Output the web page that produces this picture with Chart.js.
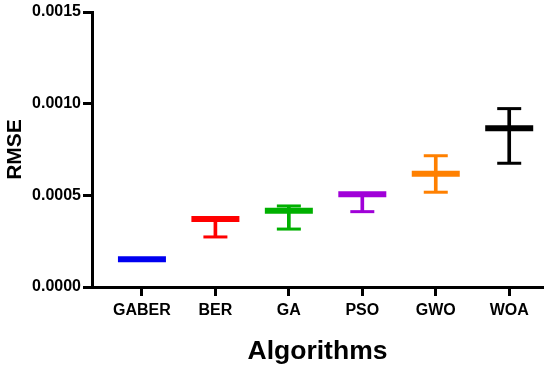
<!DOCTYPE html>
<html>
<head>
<meta charset="utf-8">
<script src="https://cdn.jsdelivr.net/npm/chart.js@4"></script>
<style>
  html, body { margin: 0; padding: 0; background: #fff; }
  #wrap { width: 550px; height: 370px; }
</style>
</head>
<body>
<div id="wrap"><canvas id="chart"></canvas></div>
<script>
const categories = ["GABER", "BER", "GA", "PSO", "GWO", "WOA"]
const meanRmse = [0.000151, 0.000371, 0.000416, 0.000506, 0.000618, 0.000866]
const lowRmse = [0.000149, 0.000273, 0.000316, 0.000411, 0.000517, 0.000675]
const highRmse = [0.000153, 0.000373, 0.000442, 0.000508, 0.000716, 0.000973]
const yTicks = [0.0000, 0.0005, 0.0010, 0.0015]
const colors = ["#0000f0", "#ff0000", "#00b000", "#a000d8", "#ff8000", "#000000"]

const font = "'Liberation Sans', Arial, sans-serif"

var meanPoints = []
var capPoints = []
var capColors = []
var whiskers = []
for (let i = 0; i < categories.length; i++) {
  meanPoints.push({ x: i, y: meanRmse[i] })
  whiskers.push({ x: i, y: [lowRmse[i], highRmse[i]] })
  capPoints.push({ x: i, y: lowRmse[i] })
  capPoints.push({ x: i, y: highRmse[i] })
  capColors.push(colors[i], colors[i])
}

const ctx = document.getElementById("chart")

new Chart(ctx, {
  type: "scatter",
  data: {
    datasets: [
      {
        // mean line
        data: meanPoints,
        pointStyle: "line",
        pointRadius: 24,
        pointHoverRadius: 24,
        borderWidth: 6,
        pointBorderWidth: 6,
        borderColor: colors,
        backgroundColor: colors
      },
      {
        // caps
        data: capPoints,
        pointStyle: "line",
        pointRadius: 12,
        pointHoverRadius: 12,
        borderWidth: 3,
        pointBorderWidth: 3,
        borderColor: capColors,
        backgroundColor: capColors
      },
      {
        type: "bar",
        data: whiskers,
        backgroundColor: colors,
        barThickness: 3
      }
    ]
  },
  options: {
    animation: false,
    responsive: true,
    maintainAspectRatio: false,
    plugins: {
      legend: { display: false },
      tooltip: { enabled: false }
    },
    layout: {
      autoPadding: false,
      padding: { top: 12, right: 7, bottom: 0, left: 0 }
    },
    scales: {
      x: {
        type: "linear",
        min: -0.68,
        max: 5.46,
        offset: false,
        afterBuildTicks: function(scale) {
          scale.ticks = categories.map((c, i) => ({ value: i }))
        },
        afterFit: function(scale) {
          scale.height = 83
        },
        border: { display: true, color: "#000", width: 3 },
        grid: {
          display: true,
          offset: false,
          drawOnChartArea: false,
          drawTicks: true,
          tickLength: 9,
          tickWidth: 3,
          tickColor: "#000"
        },
        ticks: {
          autoSkip: false,
          maxRotation: 0,
          padding: 5,
          color: "#000",
          font: { family: font, size: 16, weight: "bold" },
          callback: function(value) {
            return categories[value]
          }
        },
        title: {
          display: true,
          text: "Algorithms",
          color: "#000",
          padding: { top: 0, bottom: 2 },
          font: { family: font, size: 26.5, weight: "bold" }
        }
      },
      y: {
        min: 0,
        max: 0.0015,
        afterBuildTicks: function(scale) {
          scale.ticks = yTicks.map(v => ({ value: v }))
        },
        afterFit: function(scale) {
          scale.width = 92
        },
        border: { display: true, color: "#000", width: 3 },
        grid: {
          display: true,
          drawOnChartArea: false,
          drawTicks: true,
          tickLength: 9,
          tickWidth: 3,
          tickColor: "#000"
        },
        ticks: {
          padding: 2,
          color: "#000",
          font: { family: font, size: 16, weight: "bold" },
          callback: function(value) {
            return value.toFixed(4)
          }
        },
        title: {
          display: true,
          text: "RMSE",
          color: "#000",
          padding: { top: 3, bottom: 0 },
          font: { family: font, size: 21, weight: "bold" }
        }
      }
    }
  }
})
</script>
</body>
</html>
